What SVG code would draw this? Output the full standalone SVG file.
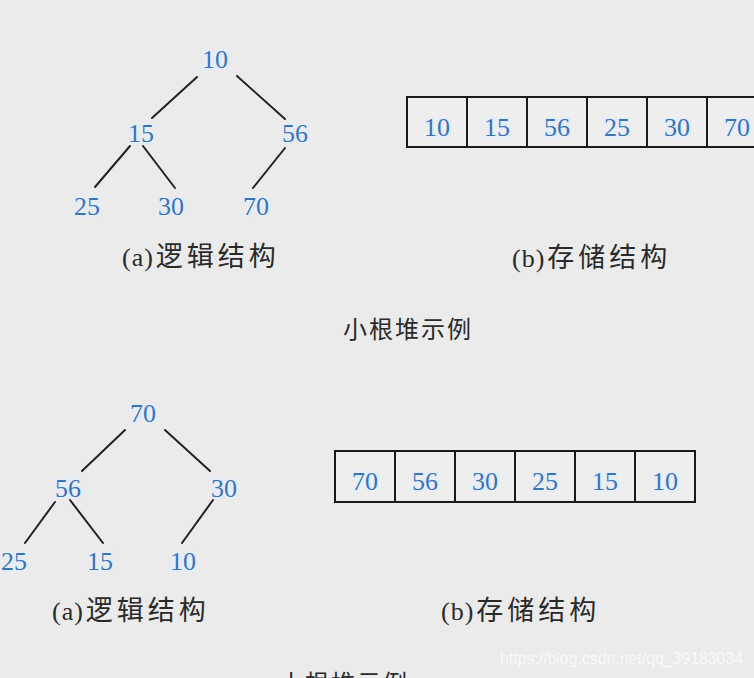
<svg xmlns="http://www.w3.org/2000/svg" width="754" height="678" viewBox="0 0 754 678">
<style>
.bg{fill:#ebebeb}
.num{font-family:"Liberation Serif","DejaVu Serif",serif;font-size:26px;fill:#3b73ba;text-anchor:middle;stroke:#e4eefa;stroke-width:4px;paint-order:stroke;stroke-linejoin:round}
.cell{fill:#eeeeee;stroke:#1a1a1a;stroke-width:2}
.cap{font-family:"Liberation Serif","Noto Sans CJK SC",serif;font-size:26px;fill:#2a2a2a;letter-spacing:1px}
.cjk{font-family:"Noto Sans CJK SC",sans-serif;font-size:27px;letter-spacing:4px}
.title{font-family:"Noto Sans CJK SC",sans-serif;font-size:24px;fill:#2a2a2a;text-anchor:middle;letter-spacing:2px}
.edge{stroke:#222;stroke-width:2;stroke-linecap:round;fill:none}
.wm{font-family:"Liberation Sans",Arial,sans-serif;font-size:16px;fill:#f9f9f9}
</style>
<rect class="bg" x="0" y="0" width="754" height="678"/>

<g id="connectors">
  <line class="edge" x1="197" y1="77" x2="152" y2="118"/>
  <line class="edge" x1="237" y1="76" x2="285" y2="119"/>
  <line class="edge" x1="130" y1="146" x2="95" y2="187"/>
  <line class="edge" x1="143" y1="146" x2="175" y2="188"/>
  <line class="edge" x1="285" y1="148" x2="253" y2="188"/>
  <line class="edge" x1="125" y1="430" x2="82" y2="471"/>
  <line class="edge" x1="165" y1="430" x2="210" y2="471"/>
  <line class="edge" x1="55" y1="502" x2="25" y2="543"/>
  <line class="edge" x1="70" y1="500" x2="103" y2="543"/>
  <line class="edge" x1="213" y1="500" x2="182" y2="543"/>
</g>

<!-- top tree (min heap) -->
<g id="t1-10"><text class="num" x="215" y="68">10</text></g>
<g id="t1-15"><text class="num" x="141" y="142">15</text></g>
<g id="t1-56"><text class="num" x="295" y="142">56</text></g>
<g id="t1-25"><text class="num" x="87" y="215">25</text></g>
<g id="t1-30"><text class="num" x="171" y="215">30</text></g>
<g id="t1-70"><text class="num" x="256" y="215">70</text></g>
<g id="t1-cap"><text class="cap" x="122" y="266">(a)<tspan class="cjk" dx="2">逻辑结构</tspan></text></g>

<!-- top array -->
<g id="arr1">
  <rect class="cell" x="407" y="97" width="60" height="50"/>
  <rect class="cell" x="467" y="97" width="60" height="50"/>
  <rect class="cell" x="527" y="97" width="60" height="50"/>
  <rect class="cell" x="587" y="97" width="60" height="50"/>
  <rect class="cell" x="647" y="97" width="60" height="50"/>
  <rect class="cell" x="707" y="97" width="60" height="50"/>
  <text class="num" x="437" y="136">10</text>
  <text class="num" x="497" y="136">15</text>
  <text class="num" x="557" y="136">56</text>
  <text class="num" x="617" y="136">25</text>
  <text class="num" x="677" y="136">30</text>
  <text class="num" x="737" y="136">70</text>
</g>
<g id="arr1-cap"><text class="cap" x="512" y="267">(b)<tspan class="cjk" dx="2">存储结构</tspan></text></g>
<g id="title1"><text class="title" x="408" y="338">小根堆示例</text></g>

<!-- bottom tree (max heap) -->
<g id="t2-70"><text class="num" x="143" y="422">70</text></g>
<g id="t2-56"><text class="num" x="68" y="497">56</text></g>
<g id="t2-30"><text class="num" x="224" y="497">30</text></g>
<g id="t2-25"><text class="num" x="14" y="570">25</text></g>
<g id="t2-15"><text class="num" x="100" y="570">15</text></g>
<g id="t2-10"><text class="num" x="183" y="570">10</text></g>
<g id="t2-cap"><text class="cap" x="52" y="620">(a)<tspan class="cjk" dx="2">逻辑结构</tspan></text></g>

<!-- bottom array -->
<g id="arr2">
  <rect class="cell" x="335" y="451" width="60" height="51"/>
  <rect class="cell" x="395" y="451" width="60" height="51"/>
  <rect class="cell" x="455" y="451" width="60" height="51"/>
  <rect class="cell" x="515" y="451" width="60" height="51"/>
  <rect class="cell" x="575" y="451" width="60" height="51"/>
  <rect class="cell" x="635" y="451" width="60" height="51"/>
  <text class="num" x="365" y="490">70</text>
  <text class="num" x="425" y="490">56</text>
  <text class="num" x="485" y="490">30</text>
  <text class="num" x="545" y="490">25</text>
  <text class="num" x="605" y="490">15</text>
  <text class="num" x="665" y="490">10</text>
</g>
<g id="arr2-cap"><text class="cap" x="441" y="620">(b)<tspan class="cjk" dx="2">存储结构</tspan></text></g>
<g id="title2"><text class="title" x="344" y="692">小根堆示例</text></g>

<text class="wm" x="500" y="664" textLength="243" lengthAdjust="spacingAndGlyphs">https://blog.csdn.net/qq_39183034</text>
</svg>
